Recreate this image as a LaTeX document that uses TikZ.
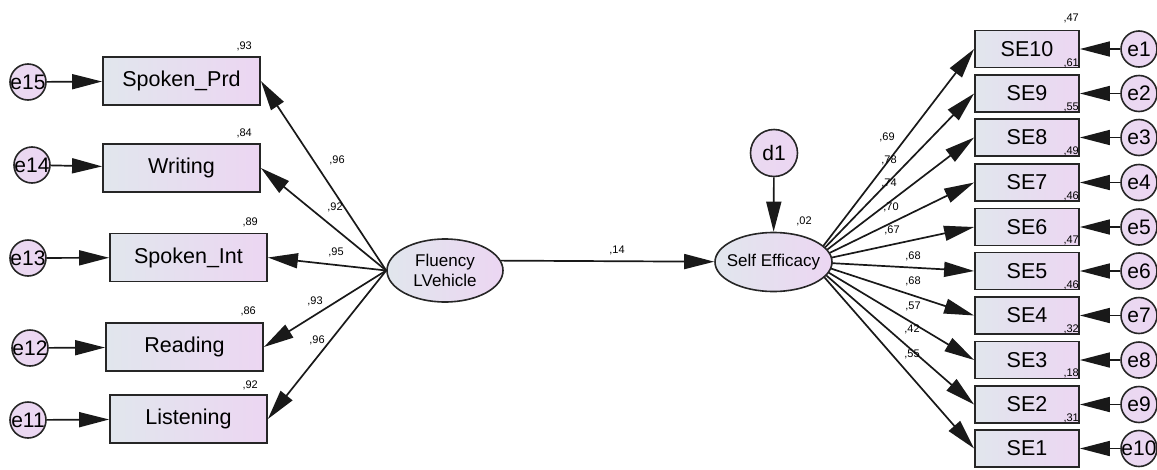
\documentclass[tikz,border=0pt]{standalone}
\usepackage{fontspec}
\setmainfont{Liberation Sans}
\usetikzlibrary{arrows.meta,shapes.geometric,backgrounds}
\definecolor{boxl}{RGB}{225,230,237}
\definecolor{boxr}{RGB}{236,214,242}

\begin{document}
\begin{tikzpicture}[x=1pt,y=-1pt,
  obs/.style={draw=black!85,line width=1.8pt,left color=boxl,right color=boxr,
    minimum width=157pt,minimum height=48pt,inner sep=0pt,font=\fontsize{21.5}{24}\selectfont},
  sevar/.style={obs,minimum width=104pt,minimum height=37pt},
  err/.style={circle,draw=black!85,line width=1.6pt,left color=boxr!80!boxl,right color=boxr,
    minimum size=36pt,inner sep=0pt,
    label={[font=\fontsize{21}{24}\selectfont,inner sep=0pt]center:#1}},
  lat/.style={ellipse,draw=black!85,line width=1.6pt,left color=boxl,right color=boxr,inner sep=0pt,
    label={[font=\fontsize{17}{20}\selectfont,align=center,inner sep=0pt]center:{#1}}},
  coef/.style={font=\fontsize{11}{13}\selectfont,inner sep=0pt},
  reg/.style={draw=black!90,line width=1.7pt,-{Triangle[length=30pt,width=15pt]}}]
\useasboundingbox (0,0) rectangle (1157,469);

% indicators of fluency
\node[obs] (spd) at (181.5,81) {Spoken\_Prd};
\node[obs] (wri) at (181.5,168) {Writing};
\node[obs] (spi) at (188.5,257.5) {Spoken\_Int};
\node[obs] (rea) at (184.5,347) {Reading};
\node[obs] (lis) at (188.5,419) {Listening};

\node[err=e15] (e15) at (28,82) {};
\node[err=e14] (e14) at (32,165) {};
\node[err=e13] (e13) at (28,258) {};
\node[err=e12] (e12) at (30,348) {};
\node[err=e11] (e11) at (28,420) {};
\draw[reg] (e15) -- (spd);
\draw[reg] (e14) -- (wri);
\draw[reg] (e13) -- (spi);
\draw[reg] (e12) -- (rea);
\draw[reg] (e11) -- (lis);

\node[coef,anchor=east] (r2spd) at (252,46) {,93};
\node[coef,anchor=east] (r2wri) at (252,133) {,84};
\node[coef,anchor=east] (r2spi) at (258,222) {,89};
\node[coef,anchor=east] (r2rea) at (256,311) {,86};
\node[coef,anchor=east] (r2lis) at (258,385) {,92};

% latent variables
\node[lat={Fluency\\LVehicle},minimum width=116pt,minimum height=63pt] (fl) at (445,270.5) {};
\node[lat={Self Efficacy},minimum width=117pt,minimum height=59pt] (se) at (773.5,262) {};
\node[err=d1,minimum size=47pt] (d1) at (774,153) {};
\coordinate (hub) at (811,262);

\draw[reg] (fl.west) -- (spd.east);
\draw[reg] (fl.west) -- (wri.east);
\draw[reg] (fl.west) -- (spi.east);
\draw[reg] (fl.west) -- (rea.east);
\draw[reg] (fl.west) -- (lis.east);
\node[coef] (pspd) at (337,160) {,96};
\node[coef] (pwri) at (335,207) {,92};
\node[coef] (pspi) at (336,252) {,95};
\node[coef] (prea) at (315,301) {,93};
\node[coef] (plis) at (317,340) {,96};

\draw[reg] (fl.10) -- (se);
\node[coef] (pfl) at (617,250) {,14};
\draw[reg] (d1) -- (se);
\node[coef] (r2se) at (804,221) {,02};

% indicators of self efficacy
\foreach \n/\y/\c/\cx/\cy in {10/49/69/887/137, 9/93.5/78/889/160, 8/137.5/74/889/183,
    7/182.5/70/891/207, 6/227/67/892/230, 5/271/68/913/256, 4/315.5/68/913/281,
    3/360/57/913/306, 2/404.5/42/912/329, 1/448.5/55/912/354}{
  \pgfmathtruncatemacro\e{11-\n}
  \node[sevar] (se\n) at (1027,\y) {SE\n};
  \node[err=e\e] (e\e) at (1139,\y) {};
  \draw[reg] (e\e) -- (se\n);
  \node[coef] (pse\n) at (\cx,\cy) {,\c};
}
\begin{scope}[on background layer]
\foreach \n in {1,...,10}
  \draw[reg] (hub) -- (se\n.west);
\end{scope}

\foreach \v/\y [count=\i] in {47/18,61/63,55/107,49/151,46/196,47/240,46/285,32/329,18/373,31/418}
  \node[coef,anchor=east] (r2se\i) at (1079,\y) {,\v};
\end{tikzpicture}
\end{document}
